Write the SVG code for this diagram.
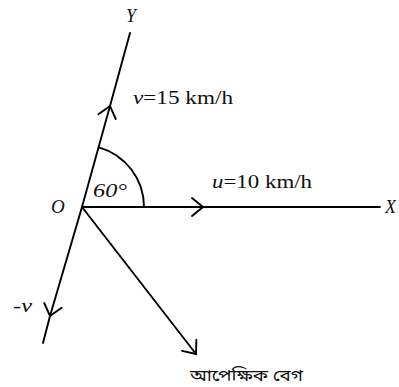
<svg xmlns="http://www.w3.org/2000/svg" width="399" height="387" viewBox="0 0 399 387">
  <defs>
    <style>
      .ln { fill: none; stroke: #000; stroke-width: 1.9; stroke-linecap: round; }
      .it { font-style: italic; }
    </style>
    <marker id="chev" markerUnits="userSpaceOnUse" markerWidth="30" markerHeight="30" refX="0" refY="0" viewBox="-15 -15 30 30" orient="auto" overflow="visible">
      <path d="M-11,-9 L0,0 L-11,9" fill="none" stroke="#000" stroke-width="1.9" stroke-linecap="round"/>
    </marker>
  </defs>
  <rect width="399" height="387" fill="#fff"/>

  <g id="connectors">
    <path id="v-line" class="ln" d="M82,207 L110,106 L130,33" marker-mid="url(#chev)"/>
    <path id="minus-v-line" class="ln" d="M82,207 L50,316 L43,343" marker-mid="url(#chev)"/>
    <path id="u-line" class="ln" d="M82,207 L203,207 L380,207" marker-mid="url(#chev)"/>
    <path id="rel-line" class="ln" d="M82,207 L196,354" marker-end="url(#chev)"/>
    <path id="angle-arc" class="ln" d="M98.7,147.3 A62,62 0 0 1 144,207"/>
  </g>

  <g font-family="'Liberation Serif', 'Times New Roman', 'DejaVu Serif', serif" fill="#111">
    <g id="label-Y"><text class="it" x="126" y="22" font-size="18">Y</text></g>
    <g id="label-X"><text class="it" x="385" y="213" font-size="18">X</text></g>
    <g id="label-O"><text class="it" x="51" y="213" font-size="19">O</text></g>
    <g id="label-angle"><text class="it" x="93" y="197" font-size="18" textLength="34" lengthAdjust="spacingAndGlyphs">60°</text></g>
    <g id="label-v"><text x="133" y="104" font-size="19" textLength="100" lengthAdjust="spacingAndGlyphs"><tspan class="it">ν</tspan>=15 km/h</text></g>
    <g id="label-u"><text x="212" y="188" font-size="19" textLength="100" lengthAdjust="spacingAndGlyphs"><tspan class="it">u</tspan>=10 km/h</text></g>
    <g id="label-minus-v"><text x="13" y="312" font-size="18" textLength="19" lengthAdjust="spacingAndGlyphs">-<tspan class="it">v</tspan></text></g>
  </g>
  <g id="label-rel"><text x="190" y="381" font-size="16" font-family="'Noto Sans Bengali', 'Noto Serif Bengali', 'Noto Sans', sans-serif" fill="#111" textLength="113" lengthAdjust="spacingAndGlyphs">আপেক্ষিক বেগ</text></g>
</svg>
